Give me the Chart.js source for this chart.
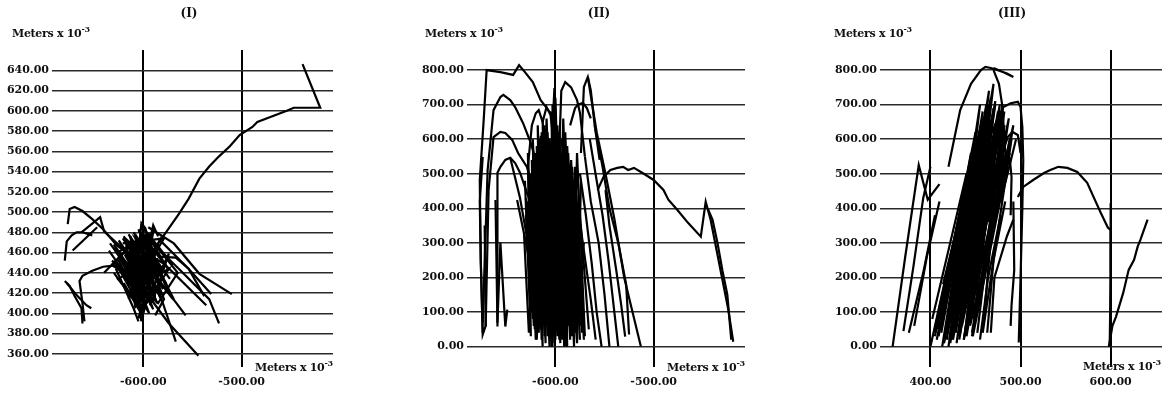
<!DOCTYPE html>
<html>
<head>
<title>Trajectories (I) (II) (III)</title>
<script src="https://cdn.jsdelivr.net/npm/chart.js"></script>
<style>
  body {
    margin: 0;
    background: #fff;
    width: 1168px;
    height: 396px;
    position: relative;
    overflow: hidden;
    font-family: 'DejaVu Serif', serif;
    color: #111;
  }
  canvas { position: absolute; top: 0; }
  .lbl {
    position: absolute;
    font-size: 11px;
    font-weight: bold;
    white-space: nowrap;
    letter-spacing: -0.3px;
  }
  .lbl sup { font-size: 8px; }
  .ttl {
    position: absolute;
    top: 6px;
    font-size: 12px;
    font-weight: bold;
    transform: translateX(-50%);
  }
</style>
</head>
<body>
<canvas id="c1" width="390" height="396" style="left:0px"></canvas>
<canvas id="c2" width="390" height="396" style="left:390px"></canvas>
<canvas id="c3" width="388" height="396" style="left:780px"></canvas>

<div class="ttl" style="left:189px">(I)</div>
<div class="ttl" style="left:599px">(II)</div>
<div class="ttl" style="left:1012px">(III)</div>

<div class="lbl" style="left:12px; top:24px">Meters x 10<sup>-3</sup></div>
<div class="lbl" style="left:425px; top:24px">Meters x 10<sup>-3</sup></div>
<div class="lbl" style="left:834px; top:24px">Meters x 10<sup>-3</sup></div>

<div class="lbl" style="left:255px; top:358px">Meters x 10<sup>-3</sup></div>
<div class="lbl" style="left:667px; top:358px">Meters x 10<sup>-3</sup></div>
<div class="lbl" style="left:1083px; top:357px">Meters x 10<sup>-3</sup></div>

<script>
// ---------- panel (I) ----------
const xTicksI = [-600, -500];
const yTicksI = [360, 380, 400, 420, 440, 460, 480, 500, 520, 540, 560, 580, 600, 620, 640];

const arcI = [[-438,646],[-420,603],[-447,603],[-454,600],[-484,589],[-489,584],[-502,576],[-512,565],[-523,555],[-533,545],[-543,533],[-554,513],[-564,498],[-577,480],[-585,469],[-595,455],[-605,440],[-612,425]];
const hookTopI = [[-677,488],[-675,503],[-670,505],[-662,501],[-652,493],[-641,483],[-627,467],[-613,457],[-605,446]];
const hookPeakI = [[-663,480],[-644,495],[-640,481],[-621,464]];
const hookMidI = [[-680,452],[-678,471],[-673,477],[-668,480],[-662,480],[-652,477]];
const hookLineI = [[-672,462],[-647,485]];
const lowLeftI = [[-680,432],[-675,427],[-670,417],[-663,405],[-662,390]];
const lowLeft2I = [[-678,430],[-668,418],[-658,408],[-653,405]];
const branchI = [[-660,392],[-662,410],[-665,432],[-662,437],[-652,442],[-641,446],[-631,447],[-621,441]];
const s1I = [[-634,469],[-600,424],[-574,390],[-544,358]];
const s2I = [[-621,474],[-585,424],[-567,372]];
const s3I = [[-595,485],[-569,469],[-543,439],[-510,419]];
const s4I = [[-600,478],[-564,444],[-533,414],[-523,390]];
const s5I = [[-610,464],[-585,434],[-557,398]];
const s6I = [[-626,454],[-605,414],[-602,392]];
const s7I = [[-628,444],[-610,405],[-605,392]];
const s8I = [[-615,469],[-579,449],[-536,408]];
const s9I = [[-605,483],[-590,454],[-569,414]];
const s10I = [[-585,474],[-554,444],[-531,419]];
const s11I = [[-602,488],[-595,454],[-579,414],[-588,398]];
const s12I = [[-585,456],[-567,455],[-554,444],[-538,417]];
const z1I = [[-628,459],[-595,478],[-615,414],[-585,469],[-605,395],[-574,459],[-590,414],[-621,444]];
const z2I = [[-621,469],[-579,474],[-610,424],[-574,444],[-600,405],[-626,434],[-585,454]];
const z3I = [[-605,474],[-631,449],[-595,414],[-610,464],[-574,419],[-595,469]];
const z4I = [[-615,459],[-590,480],[-600,430],[-620,440],[-585,410],[-565,440],[-590,470]];
const z5I = [[-640,440],[-610,470],[-597,440],[-615,420],[-590,440],[-600,400]];
const upI = [[-604,470],[-602,489],[-598,484],[-594,470],[-590,487],[-585,476]];
const d1I = [[-635,462],[-605,420],[-630,468],[-600,425],[-625,472],[-595,428],[-620,476],[-590,432],[-615,478],[-585,436],[-610,480],[-580,440],[-605,482],[-575,444],[-600,484],[-570,448]];
const d2I = [[-630,440],[-600,400],[-626,446],[-596,404],[-622,452],[-592,410],[-618,458],[-588,416],[-614,462],[-584,420],[-610,466],[-580,424],[-606,468],[-576,428]];
const d3I = [[-620,430],[-600,396],[-616,436],[-594,400],[-612,444],[-590,404],[-608,450],[-586,410],[-604,456],[-582,414]];
const d4I = [[-632,452],[-612,436],[-626,458],[-606,440],[-620,464],[-600,446],[-614,470],[-594,452],[-608,474],[-588,458]];
const d5I = [[-628,448],[-598,410],[-624,454],[-594,414],[-619,458],[-589,418],[-615,462],[-585,422],[-611,466],[-581,426],[-607,470],[-577,430],[-603,474],[-573,434]];
const d6I = [[-618,472],[-608,405],[-613,476],[-603,402],[-608,478],[-598,404],[-603,480],[-593,408],[-598,478],[-588,412],[-593,474],[-583,416]];

// ---------- panel (II) ----------
const xTicksII = [-600, -500];
const yTicksII = [0, 100, 200, 300, 400, 500, 600, 700, 800];

const arc800II = [[-674,40],[-676,251],[-677,482],[-673,656],[-670,800],[-656,794],[-643,786],[-637,814],[-631,794],[-623,765],[-615,713],[-605,676],[-595,598],[-585,511],[-574,338],[-564,136],[-559,20]];
const arc700II = [[-674,69],[-669,511],[-663,684],[-656,722],[-653,728],[-646,713],[-641,693],[-633,647],[-625,589],[-618,520],[-612,462],[-602,40]];
const arc600II = [[-671,58],[-668,453],[-663,606],[-656,621],[-651,618],[-644,598],[-638,560],[-629,520],[-622,453],[-615,387],[-595,20]];
const arc500II = [[-659,58],[-659,503],[-656,520],[-651,540],[-646,546],[-641,531],[-636,503],[-629,445],[-618,367],[-595,58]];
const leftBarII = [[-674,549],[-677,420],[-676,250],[-674,35],[-671,60],[-672,350]];
const leftPairII = [[-661,424],[-659,69],[-656,300],[-651,58],[-649,107]];
const l1II = [[-646,546],[-636,430],[-628,300],[-622,180],[-615,70]];
const l2II = [[-639,424],[-630,300],[-620,150],[-612,70]];
const zAII = [[-628,520],[-622,60],[-615,610],[-608,30],[-603,650],[-596,20],[-590,620],[-582,50],[-578,560],[-570,30]];
const zBII = [[-625,470],[-617,40],[-612,580],[-604,0],[-600,720],[-593,40],[-587,560],[-578,10],[-574,480]];
const zCII = [[-630,430],[-624,100],[-618,500],[-610,60],[-606,600],[-598,30],[-592,660],[-585,30],[-580,520],[-572,60]];
const zDII = [[-620,560],[-614,20],[-609,660],[-601,10],[-597,600],[-589,0],[-584,540],[-575,20]];
const zEII = [[-626,380],[-619,20],[-613,450],[-606,80],[-602,560],[-594,60],[-588,500],[-581,80],[-576,420],[-566,50]];
const zFII = [[-632,330],[-627,40],[-621,400],[-616,60],[-611,520],[-605,40],[-599,480],[-592,90],[-586,440],[-579,100],[-571,300]];
const zGII = [[-631,480],[-625,30],[-628,560],[-620,20],[-623,600],[-615,50],[-618,640],[-610,10],[-613,660],[-605,30],[-608,620],[-600,20],[-603,700],[-595,10],[-598,640],[-590,40],[-593,600],[-585,20],[-588,580],[-580,40],[-583,520],[-575,60]];
const zHII = [[-629,420],[-623,80],[-626,500],[-618,40],[-621,560],[-613,0],[-616,600],[-608,60],[-611,640],[-603,0],[-606,600],[-598,50],[-601,660],[-593,20],[-596,620],[-588,0],[-591,560],[-583,30],[-586,520],[-578,20],[-581,480],[-573,40]];
const zIII_ = [[-627,460],[-621,50],[-624,540],[-616,90],[-619,580],[-611,30],[-614,620],[-606,0],[-609,600],[-601,60],[-604,680],[-596,40],[-599,600],[-591,0],[-594,560],[-586,60],[-589,540],[-581,0],[-584,500],[-576,80],[-579,440],[-571,20]];
const zJII = [[-630,380],[-624,140],[-627,350],[-620,120],[-622,420],[-614,140],[-617,470],[-609,120],[-612,520],[-604,150],[-607,500],[-599,120],[-602,540],[-594,150],[-597,500],[-589,130],[-592,470],[-584,150],[-587,430],[-579,130]];
const zKII = [[-628,300],[-622,200],[-625,330],[-617,210],[-620,360],[-612,230],[-615,380],[-607,200],[-610,400],[-602,220],[-605,420],[-597,200],[-600,400],[-592,230],[-595,380],[-587,210],[-590,360],[-582,240]];
const p1II = [[-606,450],[-601,748],[-597,450]];
const p2II = [[-597,500],[-594,740],[-590,765],[-584,750],[-578,713],[-575,676],[-570,550]];
const p3II = [[-574,560],[-571,751],[-567,780],[-564,742],[-560,640],[-555,540]];
const p4II = [[-628,520],[-624,640],[-620,675],[-617,684],[-613,650],[-609,693],[-605,670],[-602,600]];
const p5II = [[-585,640],[-580,690],[-577,700],[-572,705],[-568,690],[-564,660]];
const r1II = [[-567,780],[-558,620],[-549,500],[-540,370],[-530,200],[-513,0]];
const r2II = [[-560,640],[-552,520],[-545,400],[-536,300],[-528,180],[-525,35]];
const r3II = [[-565,600],[-558,480],[-552,380],[-546,250],[-540,100],[-536,0]];
const r4II = [[-570,550],[-564,420],[-556,300],[-550,150],[-545,0]];
const r5II = [[-575,500],[-569,380],[-563,240],[-558,100],[-553,0]];
const r6II = [[-549,453],[-545,350],[-538,220],[-533,120],[-529,29]];
const plateauII = [[-557,453],[-551,491],[-544,511],[-537,517],[-531,520],[-526,511],[-520,517],[-510,500],[-500,482],[-490,453],[-485,425],[-476,396],[-465,358],[-452,318],[-447,419],[-442,367],[-434,251],[-424,107],[-419,14]];
const tailII = [[-445,400],[-440,367],[-435,300],[-430,220],[-425,150],[-421,20]];

// ---------- panel (III) ----------
const xTicksIII = [400, 500, 600];
const yTicksIII = [0, 100, 200, 300, 400, 500, 600, 700, 800];

const l1III = [[358,0],[372,260],[387,525],[397,425],[410,470]];
const l2III = [[370,45],[381,230],[392,430],[400,520]];
const l3III = [[376,40],[392,214],[405,380]];
const l4III = [[382,60],[396,260],[410,420]];
const arc800III = [[420,520],[433,684],[445,760],[456,800],[461,809],[467,806],[474,800],[485,790],[492,780],[480,795],[470,806]];
const drop800III = [[470,800],[476,760],[480,693],[482,600],[485,500]];
const arc700III = [[465,600],[474,656],[481,693],[489,704],[497,708],[500,693],[502,635],[503,540],[502,400],[500,200],[498,12]];
const arc600III = [[470,450],[480,560],[486,607],[491,621],[497,612],[500,560]];
const arc550III = [[468,400],[478,520],[483,552],[488,545],[490,490],[489,380]];
const d1III = [[492,420],[493,222],[490,120],[489,60]];
const d2III = [[467,40],[471,200],[478,260],[485,320],[492,367]];
const plateauIII = [[497,433],[503,462],[514,482],[526,502],[533,511],[542,520],[552,517],[563,505],[574,474],[581,433],[589,387],[597,344],[600,338],[600,200],[599,10]];
const barIII = [[600,415],[600,40],[599,0]];
const riseIII = [[598,0],[602,60],[606,87],[614,156],[620,222],[626,251],[630,289],[633,309],[641,367]];
const zAIII = [[405,30],[450,620],[418,20],[462,680],[428,40],[468,640],[440,30],[478,600],[452,40]];
const zBIII = [[410,60],[445,560],[415,10],[455,700],[425,20],[472,700],[435,60],[482,640],[447,30],[488,560]];
const zCIII = [[402,80],[440,500],[412,40],[452,600],[420,0],[465,740],[432,20],[475,680],[444,60],[485,520]];
const zDIII = [[400,0],[438,450],[408,50],[458,660],[422,10],[470,760],[438,30],[480,700],[458,40],[490,600]];
const zEIII = [[412,120],[446,520],[423,80],[460,580],[434,100],[472,560],[448,80]];
const zFIII = [[404,40],[447,560],[407,20],[452,600],[411,50],[456,640],[415,10],[460,660],[419,40],[464,700],[423,20],[468,660],[427,60],[472,640],[431,30],[476,620],[435,70],[480,600],[439,40],[484,560],[443,80]];
const zGIII = [[406,60],[444,500],[409,30],[449,580],[413,0],[454,620],[417,40],[458,680],[421,20],[462,640],[425,50],[466,700],[429,10],[470,680],[433,40],[474,640],[437,20],[478,580],[441,60],[482,520],[446,30]];
const zHIII = [[410,100],[440,420],[412,80],[445,460],[416,120],[450,500],[420,100],[455,540],[424,140],[459,560],[428,120],[463,560],[432,150],[467,540],[436,130],[471,520],[440,160],[475,500]];
const zIIII = [[414,180],[433,380],[418,160],[437,400],[421,200],[442,420],[425,180],[447,440],[429,220],[452,460],[433,200],[457,470],[437,240],[461,460],[441,220],[465,450]];
const zJIII = [[445,450],[462,700],[450,470],[467,720],[455,480],[472,710],[460,470],[477,700],[465,460],[482,680],[470,450],[487,660],[474,440],[492,640],[478,420],[495,600]];
const zKIII = [[440,350],[458,640],[446,380],[464,680],[452,360],[470,690],[458,380],[476,670],[464,360],[482,640],[470,340],[488,600]];
const s1III = [[437,20],[455,330],[470,520]];
const s2III = [[455,20],[464,200],[478,380]];
const s3III = [[446,40],[460,250],[475,450]];
const s4III = [[463,40],[470,250],[483,420]];

const tracesI = [arcI, hookTopI, hookPeakI, hookMidI, hookLineI, lowLeftI, lowLeft2I, branchI,
  s1I, s2I, s3I, s4I, s5I, s6I, s7I, s8I, s9I, s10I, s11I, s12I, z1I, z2I, z3I, z4I, z5I, upI,
  d1I, d2I, d3I, d4I, d5I, d6I];
const tracesII = [arc800II, arc700II, arc600II, arc500II, leftBarII, leftPairII, l1II, l2II,
  zAII, zBII, zCII, zDII, zEII, zFII, zGII, zHII, zIII_, zJII, zKII, p1II, p2II, p3II, p4II, p5II,
  r1II, r2II, r3II, r4II, r5II, r6II, plateauII, tailII];
const tracesIII = [l1III, l2III, l3III, l4III, arc800III, drop800III, arc700III, arc600III, arc550III,
  d1III, d2III, plateauIII, barIII, riseIII, zAIII, zBIII, zCIII, zDIII, zEIII, zFIII, zGIII, zHIII, zIIII,
  zJIII, zKIII, s1III, s2III, s3III, s4III];

const tickFont = { family: "'DejaVu Serif', serif", size: 11, weight: 'bold' };

function drawPanel(id, traces, xRange, yRange, xTicks, yTicks, axisWidth, padRight) {
  new Chart(document.getElementById(id), {
    type: 'scatter',
    data: {
      datasets: traces.map(t => ({
        data: t.map(p => ({ x: p[0], y: p[1] })),
        showLine: true,
        borderColor: '#000',
        borderWidth: 2.2,
        pointRadius: 0,
        fill: false,
        tension: 0
      }))
    },
    options: {
      responsive: false,
      animation: false,
      devicePixelRatio: 1,
      layout: { padding: { left: 0, top: 50, right: padRight, bottom: 0 } },
      plugins: { legend: { display: false }, tooltip: { enabled: false } },
      scales: {
        x: {
          type: 'linear',
          min: xRange[0],
          max: xRange[1],
          afterBuildTicks: s => { s.ticks = xTicks.map(v => ({ value: v })); },
          afterFit: s => { s.height = 29; },
          border: { display: false },
          grid: { color: '#000', lineWidth: 2, drawTicks: false },
          ticks: {
            color: '#111', font: tickFont, padding: 9,
            autoSkip: false, maxRotation: 0, minRotation: 0,
            callback: v => v.toFixed(2)
          }
        },
        y: {
          type: 'linear',
          min: yRange[0],
          max: yRange[1],
          afterBuildTicks: s => { s.ticks = yTicks.map(v => ({ value: v })); },
          afterFit: s => { s.width = axisWidth; },
          border: { display: false },
          grid: { color: '#2a2a2a', lineWidth: 1.5, drawTicks: false },
          ticks: {
            color: '#111', font: tickFont, padding: 3,
            autoSkip: false,
            callback: v => v.toFixed(2)
          }
        }
      }
    }
  });
}

drawPanel('c1', tracesI, [-693, -407], [347, 660], xTicksI, yTicksI, 52, 57);
drawPanel('c2', tracesII, [-690, -407], [-59, 858], xTicksII, yTicksII, 77, 35);
drawPanel('c3', tracesIII, [344, 657], [-59, 858], xTicksIII, yTicksIII, 100, 6);
</script>
</body>
</html>
